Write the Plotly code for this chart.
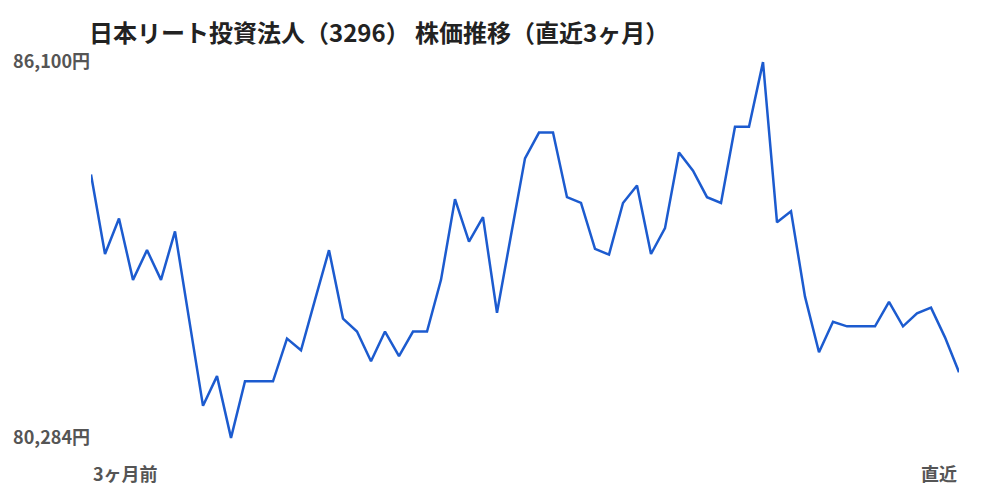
import plotly.graph_objects as go

title_text = "日本リート投資法人（3296） 株価推移（直近3ヶ月）"
prices = [
    84360, 83130, 83680, 82730, 83190, 82730, 83480, 82120, 80780, 81240,
    80284, 81160, 81160, 81160, 81820, 81640, 82420, 83190, 82130, 81930,
    81470, 81930, 81550, 81930, 81930, 82730, 83980, 83320, 83700, 82220,
    83420, 84610, 85010, 85010, 84010, 83920, 83210, 83120, 83920, 84190,
    83130, 83530, 84700, 84420, 84010, 83920, 85100, 85100, 86100, 83620,
    83790, 82470, 81610, 82080, 82010, 82010, 82010, 82390, 82010, 82210,
    82300, 81840, 81300,
]
x_idx = list(range(len(prices)))
x_labels = ["3ヶ月前", "直近"]
y_min = min(prices)
y_max = max(prices)
y_ticks = [y_min, y_max]
y_tick_text = [f"{v:,}円" for v in y_ticks]

FONT = "Noto Sans CJK JP"

fig = go.Figure()
fig.add_trace(go.Scatter(
    x=x_idx, y=prices, mode="lines",
    line=dict(color="#1c5bcf", width=2.5),
    hoverinfo="skip", showlegend=False,
))

pad = (y_max - y_min) * 0.003
fig.update_layout(
    width=1000, height=500,
    margin=dict(l=83, r=49, t=53, b=69, autoexpand=False),
    paper_bgcolor="white", plot_bgcolor="white",
    font=dict(family=FONT, color="#555555"),
    title=dict(
        text=title_text, x=0.081, xanchor="left", y=0.948, yanchor="middle",
        font=dict(family=FONT, size=24, color="#222222", weight="bold"),
    ),
    xaxis=dict(
        range=[0, len(prices) - 1], showgrid=False, zeroline=False,
        showline=False, showticklabels=False, automargin=False,
    ),
    yaxis=dict(
        range=[y_min - pad, y_max + pad], tickvals=y_ticks, ticktext=y_tick_text,
        showgrid=False, zeroline=False, showline=False, ticks="",
        automargin=False,
        tickfont=dict(family=FONT, size=18, color="#555555", weight="bold"),
    ),
)

fig.add_annotation(
    x=0, y=0, xref="x", yref="paper", yshift=-34, text=x_labels[0],
    showarrow=False, xanchor="left", yanchor="middle",
    font=dict(family=FONT, size=18, color="#555555", weight="bold"),
)
fig.add_annotation(
    x=len(prices) - 1, y=0, xref="x", yref="paper", yshift=-34, text=x_labels[1],
    showarrow=False, xanchor="right", yanchor="middle",
    font=dict(family=FONT, size=18, color="#555555", weight="bold"),
)

fig.write_html("out.html")
